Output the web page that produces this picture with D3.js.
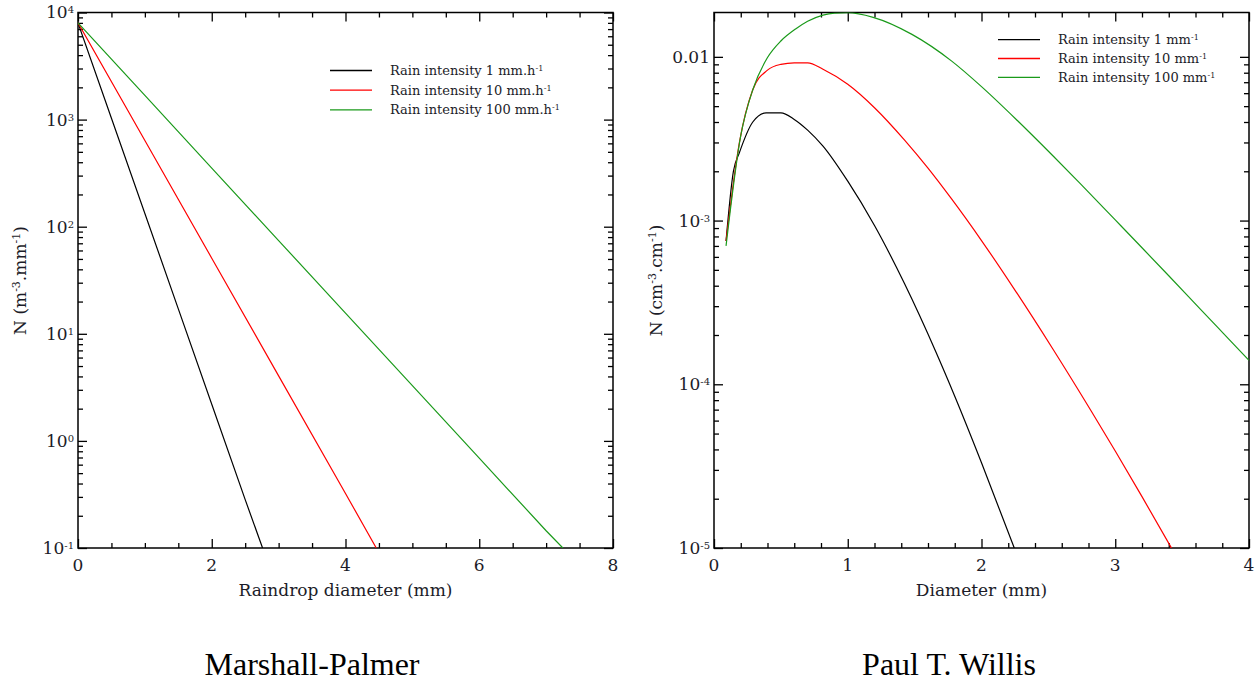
<!DOCTYPE html>
<html>
<head>
<meta charset="utf-8">
<script src="https://cdn.jsdelivr.net/npm/d3@7"></script>
<style>
  body { margin: 0; background: #fff; }
  svg { display: block; }
  text { font-family: "DejaVu Serif", serif; fill: #1c1c28; }
  .caption { font-family: "Liberation Serif", "Times New Roman", serif; fill: #000; }
</style>
</head>
<body>
<svg id="chart" width="1258" height="682"></svg>
<script>
// ---------- Data: Marshall-Palmer (left) ----------
const mpBlackD = [0, 0.5, 1, 1.5, 2, 2.5, 2.76];
const mpBlackN = [8000, 1030, 133, 17.1, 2.2, 0.283, 0.1];
const mpRedD = [0, 1, 2, 3, 4, 4.46];
const mpRedN = [8000, 637, 50.8, 4.05, 0.323, 0.1];
const mpGreenD = [0, 1, 2, 3, 4, 5, 6, 7, 7.25];
const mpGreenN = [8000, 1681, 353, 74.2, 15.6, 3.28, 0.69, 0.145, 0.1];
const mpLegend = [["Rain intensity 1 mm.h", "-1"], ["Rain intensity 10 mm.h", "-1"], ["Rain intensity 100 mm.h", "-1"]];
const mpXTicks = [0, 2, 4, 6, 8];
const mpYTicks = [0.1, 1, 10, 100, 1000, 10000];
const mpYLabels = [["10", "-1"], ["10", "0"], ["10", "1"], ["10", "2"], ["10", "3"], ["10", "4"]];

// ---------- Data: Willis (right) ----------
const wBlackD = [0.09, 0.145, 0.19, 0.29, 0.39, 0.5, 0.6, 0.7, 0.815, 1.0, 1.2, 1.425, 1.66, 1.8, 2.0, 2.245];
const wBlackN = [7.5e-4, 2.0e-3, 2.6e-3, 4.0e-3, 4.55e-3, 4.55e-3, 4.15e-3, 3.57e-3, 2.85e-3, 1.74e-3, 9.33e-4, 4.11e-4, 1.57e-4, 8.46e-5, 3.32e-5, 1.0e-5];
const wRedD = [0.09, 0.19, 0.29, 0.4, 0.5, 0.6, 0.7, 0.815, 1.0, 1.2, 1.425, 1.6, 1.775, 2.0, 2.24, 2.53, 2.82, 3.0, 3.2, 3.42];
const wRedN = [7.5e-4, 3.0e-3, 6.3e-3, 8.3e-3, 9.0e-3, 9.2e-3, 9.2e-3, 8.4e-3, 6.8e-3, 4.89e-3, 3.10e-3, 2.09e-3, 1.36e-3, 7.55e-4, 3.87e-4, 1.66e-4, 6.87e-5, 3.91e-5, 2.06e-5, 1.0e-5];
const wGreenD = [0.09, 0.2, 0.29, 0.4, 0.5, 0.61, 0.7, 0.815, 0.9, 1.0, 1.19, 1.48, 1.775, 2.0, 2.27, 2.53, 2.735, 3.0, 3.2, 3.4, 3.636, 3.81, 4.0];
const wGreenN = [7.0e-4, 3.3e-3, 6.3e-3, 9.9e-3, 1.25e-2, 1.48e-2, 1.65e-2, 1.8e-2, 1.85e-2, 1.862e-2, 1.744e-2, 1.372e-2, 9.45e-3, 6.58e-3, 4.07e-3, 2.506e-3, 1.694e-3, 1.009e-3, 6.82e-4, 4.60e-4, 2.88e-4, 2.04e-4, 1.40e-4];
const wLegend = [["Rain intensity 1 mm", "-1"], ["Rain intensity 10 mm", "-1"], ["Rain intensity 100 mm", "-1"]];
const wXTicks = [0, 1, 2, 3, 4];
const wYTicks = [1e-5, 1e-4, 1e-3, 1e-2];
const wYLabels = [["10", "-5"], ["10", "-4"], ["10", "-3"], ["0.01", ""]];

const seriesColors = ["#000000", "#ff0000", "#1a9a1a"];

const svg = d3.select("#chart");

function minorLog(domain) {
  const out = [];
  const lo = Math.floor(Math.log10(domain[0])), hi = Math.ceil(Math.log10(domain[1]));
  for (let e = lo; e <= hi; e++) {
    for (let m = 2; m <= 9; m++) {
      const v = m * Math.pow(10, e);
      if (v > domain[0] && v < domain[1]) out.push(v);
    }
  }
  return out;
}

// text with optional superscript part(s): parts = [[text, isSup], ...]
function richText(sel, parts, supSize) {
  parts.forEach(p => {
    if (!p[0]) return;
    const t = sel.append("tspan").text(p[0]);
    if (p[1]) t.attr("baseline-shift", "super").attr("font-size", supSize);
  });
}

function drawPanel(cfg) {
  const g = svg.append("g").attr("transform", `translate(${cfg.left},${cfg.top})`);
  const w = cfg.width, h = cfg.height;
  const x = d3.scaleLinear().domain(cfg.xDomain).range([0, w]);
  const y = d3.scaleLog().domain(cfg.yDomain).range([h, 0]);

  const clipId = "clip-" + cfg.id;
  g.append("clipPath").attr("id", clipId).append("rect").attr("width", w).attr("height", h);

  const xMinor = d3.range(cfg.xDomain[0], cfg.xDomain[1] + 1e-9, cfg.xMinorStep)
    .filter(v => !cfg.xTicks.some(t => Math.abs(t - v) < 1e-9));
  const yMinor = minorLog(cfg.yDomain);
  const minorLen = 5, majorLen = 9;

  const axes = [
    { ax: d3.axisBottom(x).tickValues(xMinor).tickSize(-minorLen).tickFormat(""), tr: `translate(0,${h})` },
    { ax: d3.axisTop(x).tickValues(xMinor).tickSize(-minorLen).tickFormat(""), tr: `translate(0,0)` },
    { ax: d3.axisBottom(x).tickValues(cfg.xTicks).tickSize(-majorLen).tickFormat(""), tr: `translate(0,${h})` },
    { ax: d3.axisTop(x).tickValues(cfg.xTicks).tickSize(-majorLen).tickFormat(""), tr: `translate(0,0)` },
    { ax: d3.axisLeft(y).tickValues(yMinor).tickSize(-minorLen).tickFormat(""), tr: `translate(0,0)` },
    { ax: d3.axisRight(y).tickValues(yMinor).tickSize(-minorLen).tickFormat(""), tr: `translate(${w},0)` },
    { ax: d3.axisLeft(y).tickValues(cfg.yTicks).tickSize(-majorLen).tickFormat(""), tr: `translate(0,0)` },
    { ax: d3.axisRight(y).tickValues(cfg.yTicks).tickSize(-majorLen).tickFormat(""), tr: `translate(${w},0)` }
  ];
  axes.forEach(a => {
    const ag = g.append("g").attr("transform", a.tr).call(a.ax);
    ag.select(".domain").remove();
    ag.selectAll("line").attr("stroke", "#000").attr("stroke-width", 1.3);
  });

  // Tick labels
  g.append("g").selectAll("text").data(cfg.xTicks).join("text")
    .attr("x", d => x(d)).attr("y", h + 23)
    .attr("text-anchor", "middle").attr("font-size", 17)
    .text(d => d3.format("d")(d));
  g.append("g").selectAll("text").data(cfg.yTicks).join("text")
    .attr("x", -4).attr("y", d => y(d)).attr("dy", "0.35em")
    .attr("text-anchor", "end").attr("font-size", 17)
    .each(function (d, i) {
      const lab = cfg.yLabels[i];
      richText(d3.select(this), [[lab[0], false], [lab[1], true]], 10);
    });

  // Frame
  g.append("rect").attr("width", w).attr("height", h)
    .attr("fill", "none").attr("stroke", "#000").attr("stroke-width", 1.5);

  // Lines
  const line = d3.line().x(d => x(d[0])).y(d => y(d[1])).curve(cfg.curve);
  const lg = g.append("g").attr("clip-path", `url(#${clipId})`);
  cfg.series.forEach((s, i) => {
    lg.append("path")
      .datum(s.d.map((dv, j) => [dv, s.n[j]]))
      .attr("fill", "none").attr("stroke", seriesColors[i]).attr("stroke-width", 1.2)
      .attr("d", line);
  });

  // Legend
  const leg = g.append("g").attr("transform", `translate(${cfg.legX},${cfg.legY})`);
  cfg.legend.forEach((t, i) => {
    leg.append("line").attr("x1", 0).attr("x2", 42).attr("y1", i * cfg.legStep).attr("y2", i * cfg.legStep)
      .attr("stroke", seriesColors[i]).attr("stroke-width", 1.3);
    const tx = leg.append("text").attr("x", 60).attr("y", i * cfg.legStep).attr("dy", "0.35em")
      .attr("font-size", 13);
    richText(tx, [[t[0], false], [t[1], true]], 8);
  });

  // Axis titles
  g.append("text").attr("x", w / 2).attr("y", h + 48).attr("text-anchor", "middle")
    .attr("font-size", 17).text(cfg.xTitle);
  const yt = g.append("text").attr("transform", `translate(${cfg.yTitleX},${cfg.yTitleY}) rotate(-90)`)
    .attr("text-anchor", "middle").attr("font-size", 17);
  richText(yt, cfg.yTitle, 11);

  // Caption
  svg.append("text").attr("class", "caption").attr("x", cfg.left + cfg.capX).attr("y", 675)
    .attr("text-anchor", "middle").attr("font-size", 32).text(cfg.caption);
}

drawPanel({
  id: "mp", left: 78, top: 12.5, width: 535, height: 535.5,
  xDomain: [0, 8], yDomain: [0.1, 10000], xTicks: mpXTicks, xMinorStep: 0.5,
  yTicks: mpYTicks, yLabels: mpYLabels, curve: d3.curveLinear,
  series: [{ d: mpBlackD, n: mpBlackN }, { d: mpRedD, n: mpRedN }, { d: mpGreenD, n: mpGreenN }],
  legend: mpLegend, legX: 252, legY: 58, legStep: 19.7,
  xTitle: "Raindrop diameter (mm)",
  yTitle: [["N (m", false], ["-3", true], [".mm", false], ["-1", true], [")", false]],
  yTitleX: -52, yTitleY: 268,
  caption: "Marshall-Palmer", capX: 234
});

drawPanel({
  id: "w", left: 714, top: 12.5, width: 535, height: 535.5,
  xDomain: [0, 4], yDomain: [1e-5, 0.01866], xTicks: wXTicks, xMinorStep: 0.2,
  yTicks: wYTicks, yLabels: wYLabels, curve: d3.curveMonotoneX,
  series: [{ d: wBlackD, n: wBlackN }, { d: wRedD, n: wRedN }, { d: wGreenD, n: wGreenN }],
  legend: wLegend, legX: 284, legY: 27.2, legStep: 18.8,
  xTitle: "Diameter (mm)",
  yTitle: [["N (cm", false], ["-3", true], [".cm", false], ["-1", true], [")", false]],
  yTitleX: -52, yTitleY: 268,
  caption: "Paul T. Willis", capX: 235
});
</script>
</body>
</html>
